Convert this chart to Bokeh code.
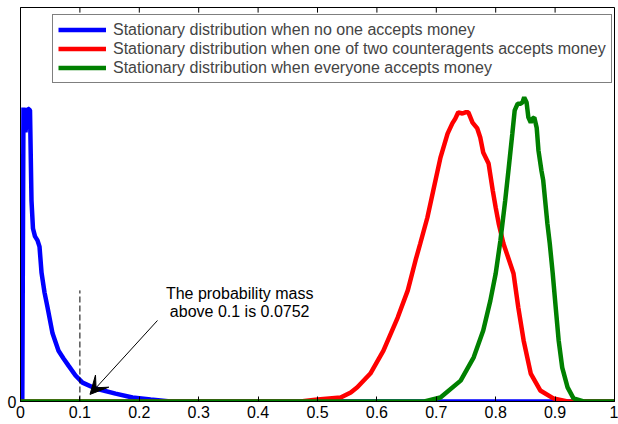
from bokeh.plotting import figure
from bokeh.models import (Range1d, FixedTicker, Legend, LegendItem,
                          Label, Arrow, VeeHead)
from bokeh.embed import file_html
from bokeh.resources import INLINE

# ---- data ----
blue_x = [0.0, 0.003, 0.005, 0.0084, 0.0118, 0.016, 0.0185, 0.021, 0.0244, 0.0286, 0.032, 0.0354,
          0.0404, 0.0455, 0.0539, 0.064, 0.0724, 0.0808, 0.0926, 0.1044, 0.1263, 0.16, 0.1886,
          0.219, 0.2525, 0.4, 0.6, 0.8, 1.0]
blue_y = [0.0, 0.0, 0.746, 0.683, 0.744, 0.739, 0.510, 0.439, 0.419, 0.409, 0.393, 0.327,
          0.277, 0.239, 0.173, 0.129, 0.109, 0.091, 0.066, 0.048, 0.033, 0.020, 0.010,
          0.005, 0.0, 0.0, 0.0, 0.0, 0.0]

red_x = [0.0, 0.471, 0.5, 0.539, 0.556, 0.567, 0.589, 0.611, 0.635, 0.652, 0.665, 0.673, 0.685,
         0.695, 0.707, 0.719, 0.727, 0.732, 0.737, 0.744, 0.749, 0.754, 0.761, 0.769, 0.774,
         0.779, 0.788, 0.795, 0.800, 0.805, 0.813, 0.830, 0.838, 0.847, 0.859, 0.875, 0.897,
         0.921, 1.0]
red_y = [0.0, 0.0, 0.005, 0.010, 0.023, 0.036, 0.071, 0.129, 0.213, 0.282, 0.358, 0.401, 0.467,
         0.536, 0.619, 0.680, 0.706, 0.718, 0.734, 0.731, 0.734, 0.734, 0.708, 0.693, 0.670,
         0.632, 0.604, 0.536, 0.492, 0.452, 0.401, 0.325, 0.239, 0.155, 0.071, 0.028, 0.008,
         0.0, 0.0]

green_x = [0.0, 0.680, 0.707, 0.741, 0.763, 0.779, 0.791, 0.800, 0.808, 0.816, 0.822, 0.828,
           0.832, 0.837, 0.842, 0.845, 0.848, 0.852, 0.855, 0.859, 0.862, 0.865, 0.869, 0.872,
           0.877, 0.880, 0.887, 0.891, 0.896, 0.901, 0.906, 0.912, 0.921, 0.931, 0.948, 1.0]
green_y = [0.0, 0.0, 0.010, 0.053, 0.112, 0.180, 0.256, 0.325, 0.409, 0.510, 0.594, 0.680,
           0.739, 0.756, 0.756, 0.759, 0.772, 0.759, 0.721, 0.708, 0.718, 0.721, 0.695, 0.637,
           0.586, 0.561, 0.452, 0.401, 0.325, 0.239, 0.155, 0.086, 0.036, 0.008, 0.0, 0.0]

series_labels = [
    "Stationary distribution when no one accepts money",
    "Stationary distribution when one of two counteragents accepts money",
    "Stationary distribution when everyone accepts money",
]
x_ticks = [0.0, 0.1, 0.2, 0.3, 0.4, 0.5, 0.6, 0.7, 0.8, 0.9, 1.0]
x_tick_labels = ["0", "0.1", "0.2", "0.3", "0.4", "0.5", "0.6", "0.7", "0.8", "0.9", "1"]
y_ticks = [0.0]
y_tick_labels = ["0"]
annotation_lines = ["The probability mass", "above 0.1 is 0.0752"]
threshold = 0.1

FONT = "Liberation Sans"
FS = "16px"

p = figure(width=618, height=424, output_backend="svg", toolbar_location=None,
           x_range=Range1d(0, 1), y_range=Range1d(0, 1))
p.min_border_left = 20
p.min_border_right = 4
p.min_border_top = 7
p.min_border_bottom = 23
p.background_fill_color = "white"
p.border_fill_color = "white"
p.outline_line_color = "black"
p.outline_line_width = 1
p.xgrid.visible = False
p.ygrid.visible = False

for ax in p.xaxis:
    ax.ticker = FixedTicker(ticks=x_ticks)
    ax.major_label_overrides = {t: l for t, l in zip(x_ticks, x_tick_labels)}
    ax.major_tick_in = 5
    ax.major_tick_out = 0
    ax.minor_tick_line_color = None
    ax.major_label_text_font = FONT
    ax.major_label_text_font_size = FS
    ax.major_label_text_color = "black"
    ax.axis_line_color = "black"
    ax.major_tick_line_color = "black"
    ax.major_label_standoff = 4

for ax in p.yaxis:
    ax.ticker = FixedTicker(ticks=y_ticks)
    ax.major_label_overrides = {t: l for t, l in zip(y_ticks, y_tick_labels)}
    ax.major_tick_in = 5
    ax.major_tick_out = 0
    ax.minor_tick_line_color = None
    ax.major_label_text_font = FONT
    ax.major_label_text_font_size = FS
    ax.major_label_text_color = "black"
    ax.axis_line_color = "black"
    ax.major_tick_line_color = "black"
    ax.major_label_standoff = 4

# inward ticks along the top edge of the box (MATLAB style)
p.segment(x0=x_ticks, y0=[1.0] * len(x_ticks), x1=x_ticks, y1=[0.987] * len(x_ticks),
          line_color="black", line_width=1)

r_blue = p.line(blue_x, blue_y, line_color="#0000ff", line_width=4.5)
r_red = p.line(red_x, red_y, line_color="#ff0000", line_width=4.5)
r_green = p.line(green_x, green_y, line_color="#008000", line_width=4.5)

# dashed threshold marker
p.segment(x0=[threshold], y0=[0], x1=[threshold], y1=[0.282], line_color="black",
          line_width=1, line_dash="6 3")

for i, txt in enumerate(annotation_lines):
    p.add_layout(Label(x=0.369, y=0.274 - i * 0.045, text=txt, text_align="center",
                       text_baseline="middle", text_font=FONT, text_font_size=FS,
                       text_color="black"))

p.add_layout(Arrow(end=VeeHead(size=18, fill_color="black", line_color="black"),
                   x_start=0.2306, y_start=0.2056, x_end=0.117, y_end=0.018,
                   line_color="black", line_width=1))

legend = Legend(items=[LegendItem(label=series_labels[0], renderers=[r_blue]),
                       LegendItem(label=series_labels[1], renderers=[r_red]),
                       LegendItem(label=series_labels[2], renderers=[r_green])],
                location=(32, 318))
legend.label_text_font = FONT
legend.label_text_font_size = FS
legend.label_height = 19
legend.glyph_height = 19
legend.glyph_width = 48
legend.label_standoff = 7
legend.padding = 5
legend.spacing = 0
legend.margin = 0
legend.border_line_color = "black"
legend.border_line_width = 1
legend.background_fill_color = "white"
legend.background_fill_alpha = 1
p.add_layout(legend, "center")

open("out.html", "w").write(file_html(p, INLINE))
